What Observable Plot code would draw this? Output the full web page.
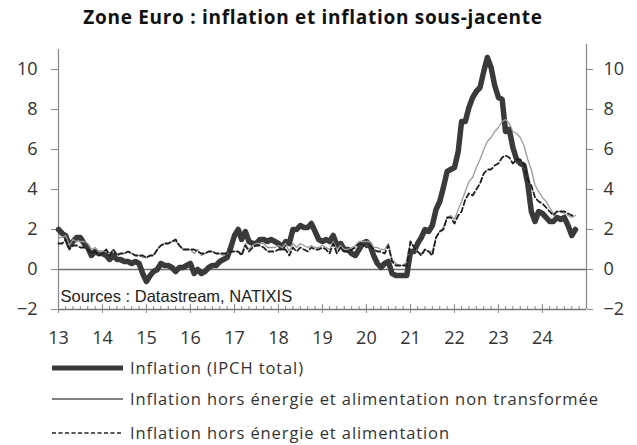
<!DOCTYPE html>
<html>
<head>
<meta charset="utf-8">
<script src="https://cdn.jsdelivr.net/npm/d3@7"></script>
<script src="https://cdn.jsdelivr.net/npm/@observablehq/plot@0.6"></script>
<style>
  html, body { margin: 0; padding: 0; background: #fff; }
  #wrap { position: relative; width: 637px; height: 445px; overflow: hidden; font-family: "Open Sans", sans-serif; color: #333; }
  #title { position: absolute; left: 0; top: 4px; width: 626px; text-align: center; font-weight: 700; font-size: 19px; letter-spacing: 0.7px; color: #111; }
  #chart { position: absolute; left: 0; top: 40px; }
  #legend { position: absolute; left: 0; top: 350px; }
</style>
</head>
<body>
<div id="wrap">
  <div id="title">Zone Euro : inflation et inflation sous-jacente</div>
  <div id="chart"></div>
  <svg id="legend" width="637" height="95"></svg>
</div>
<script>
// ---- Data (monthly, Jan 2013 -> Oct 2024) ----
const startMonth = "2013-01";
const endMonth = "2024-10";

const seriesNames = [
  "Inflation (IPCH total)",
  "Inflation hors énergie et alimentation non transformée",
  "Inflation hors énergie et alimentation"
];

const headline = [
  2.0,1.8,1.7,1.2,1.4,1.6,1.6,1.3,1.1,0.7,0.9,0.8,
  0.8,0.7,0.5,0.7,0.5,0.5,0.4,0.4,0.3,0.4,0.3,-0.2,
  -0.6,-0.3,-0.1,0.0,0.3,0.2,0.2,0.1,-0.1,0.1,0.1,0.2,
  0.3,-0.2,0.0,-0.2,-0.1,0.1,0.2,0.2,0.4,0.5,0.6,1.1,
  1.7,2.0,1.5,1.9,1.4,1.3,1.3,1.5,1.5,1.4,1.5,1.4,
  1.3,1.1,1.4,1.3,2.0,2.0,2.2,2.1,2.1,2.3,1.9,1.5,
  1.4,1.5,1.4,1.7,1.2,1.3,1.0,1.0,0.8,0.7,1.0,1.3,
  1.4,1.2,0.7,0.3,0.1,0.3,0.4,-0.2,-0.3,-0.3,-0.3,-0.3,
  0.9,0.9,1.3,1.6,2.0,1.9,2.2,3.0,3.4,4.1,4.9,5.0,
  5.1,5.9,7.4,7.4,8.1,8.6,8.9,9.1,9.9,10.6,10.1,9.2,
  8.6,8.5,6.9,7.0,6.1,5.5,5.3,5.2,4.3,2.9,2.4,2.9,
  2.8,2.6,2.4,2.4,2.6,2.5,2.6,2.2,1.7,2.0
];

const exUnprocessed = [
  1.6,1.6,1.7,1.2,1.5,1.4,1.4,1.4,1.3,1.0,1.1,0.9,
  0.9,1.0,0.8,1.0,0.8,0.8,0.8,0.9,0.8,0.7,0.7,0.6,
  0.6,0.7,0.7,1.0,1.2,1.3,1.3,1.4,1.4,1.2,1.0,1.0,
  1.0,0.8,1.0,0.7,0.8,0.9,0.9,0.8,0.8,0.7,0.8,0.9,
  0.9,0.9,0.8,1.3,1.0,1.2,1.3,1.3,1.3,1.1,1.1,1.1,
  1.2,1.1,1.3,0.9,1.3,1.1,1.3,1.2,1.1,1.2,1.1,1.1,
  1.2,1.1,1.0,1.4,1.0,1.2,1.0,1.0,1.1,1.2,1.4,1.4,
  1.4,1.4,1.1,1.1,1.0,1.0,1.3,0.5,0.3,0.2,0.2,0.4,
  1.4,1.1,0.9,0.8,1.0,0.9,0.9,1.6,1.9,2.1,2.6,2.7,
  2.5,3.0,3.4,3.9,4.4,4.6,5.1,5.5,6.0,6.4,6.6,6.9,
  7.1,7.4,7.5,7.3,6.9,6.8,6.6,6.2,5.5,5.0,4.2,3.9,
  3.6,3.4,3.1,2.8,2.9,2.9,2.8,2.7,2.6,2.7
];

const core = [
  1.3,1.3,1.5,1.0,1.2,1.2,1.1,1.1,1.0,0.8,0.9,0.7,
  0.8,1.0,0.7,1.0,0.7,0.8,0.8,0.9,0.8,0.7,0.7,0.7,
  0.6,0.7,0.7,1.0,1.2,1.3,1.3,1.4,1.5,1.2,1.0,1.0,
  1.0,1.0,0.9,0.8,0.8,0.9,0.9,0.8,0.8,0.8,0.8,0.9,
  0.9,0.9,0.7,1.2,0.9,1.1,1.2,1.2,1.1,0.9,0.9,0.9,
  1.0,1.0,1.0,0.7,1.1,0.9,1.1,1.0,0.9,1.1,1.0,1.0,
  1.1,1.0,0.8,1.3,0.8,1.1,0.9,0.9,1.0,1.1,1.3,1.3,
  1.1,1.2,1.0,0.9,0.9,0.8,1.2,0.4,0.2,0.2,0.2,0.2,
  1.4,1.1,0.9,0.7,1.0,0.9,0.7,1.6,1.9,2.0,2.6,2.6,
  2.3,2.7,2.9,3.5,3.8,3.7,4.0,4.3,4.8,5.0,5.0,5.2,
  5.3,5.6,5.7,5.6,5.3,5.5,5.5,5.3,4.5,4.2,3.6,3.4,
  3.3,3.1,2.9,2.7,2.9,2.9,2.9,2.8,2.7,2.7
];

const yearTicks = ["2013","2014","2015","2016","2017","2018","2019","2020","2021","2022","2023","2024"];
const yTicks = [-2, 0, 2, 4, 6, 8, 10];
const xDomain = ["2013-01-01", "2025-01-01"];
const yDomain = [-2, 11];
const sourceNote = ["Sources : Datastream, NATIXIS"];

// ---- Build tables ----
const parse = d3.utcParse("%Y-%m");
const months = d3.utcMonths(parse(startMonth), d3.utcMonth.offset(parse(endMonth), 1));
const rows = (vals) => vals.map((v, i) => ({date: months[i], value: v}));
const dHead = rows(headline);
const dExU = rows(exUnprocessed);
const dCore = rows(core);
const xd = xDomain.map(s => new Date(s));
const yearDates = yearTicks.map(y => new Date(y + "-01-01"));
const minorDates = d3.utcMonth.every(2).range(xd[0], xd[1]);

const chart = Plot.plot({
  width: 637,
  height: 312,
  marginLeft: 58,
  marginRight: 51,
  marginTop: 9,
  marginBottom: 43,
  style: {fontFamily: "'Open Sans', sans-serif", fontSize: "18px", color: "#333", background: "transparent", overflow: "visible"},
  x: {type: "utc", domain: xd},
  y: {domain: yDomain},
  marks: [
    Plot.ruleY([0], {stroke: "#6f6f6f", strokeWidth: 1.4}),
    Plot.ruleY([yDomain[0]], {stroke: "#777", strokeWidth: 1.3}),
    Plot.ruleX([xd[0]], {stroke: "#888", strokeWidth: 1.2}),
    Plot.ruleX([xd[1]], {stroke: "#888", strokeWidth: 1.2, insetTop: -5}),
    Plot.axisY({anchor: "left", ticks: yTicks, tickSize: 7, tickPadding: 14, stroke: "#888", label: null, fill: "#333"}),
    Plot.axisY({anchor: "right", ticks: yTicks, tickSize: 6, tickPadding: 11, stroke: "#888", label: null, fill: "#333"}),
    Plot.axisX({ticks: minorDates, tickSize: -3, tickFormat: () => "", stroke: "#888", label: null}),
    Plot.axisX({ticks: yearDates, tickSize: -5, tickFormat: () => "", stroke: "#888", label: null}),
    Plot.axisX({ticks: yearDates, tickSize: 4, tickPadding: 18, tickFormat: d3.utcFormat("%y"), stroke: "#888", label: null, fill: "#333"}),
    Plot.text(sourceNote, {frameAnchor: "bottom-left", text: d => d, dx: 2, dy: -8, textAnchor: "start", fontSize: 16.5, fontFamily: "'Liberation Sans', Arial, sans-serif", fill: "#222"}),
    Plot.line(dHead, {x: "date", y: "value", stroke: "#3a3a3a", strokeWidth: 5.5, strokeLinejoin: "round", strokeLinecap: "round"}),
    Plot.line(dExU, {x: "date", y: "value", stroke: "#9a9a9a", strokeWidth: 1.3}),
    Plot.line(dCore, {x: "date", y: "value", stroke: "#1e1e1e", strokeWidth: 1.8, strokeDasharray: "5,3"})
  ]
});
document.getElementById("chart").appendChild(chart);

// ---- Legend ----
const leg = d3.select("#legend");
const legendStyles = [
  {stroke: "#3a3a3a", width: 5, dash: null},
  {stroke: "#555", width: 1.4, dash: null},
  {stroke: "#222", width: 1.6, dash: "4,2.5"}
];
const legendRows = [18, 49, 83];
seriesNames.forEach((name, i) => {
  const g = leg.append("g").attr("transform", `translate(0,${legendRows[i]})`);
  g.append("line").attr("x1", 52).attr("x2", 123).attr("y1", 0).attr("y2", 0)
    .attr("stroke", legendStyles[i].stroke).attr("stroke-width", legendStyles[i].width)
    .attr("stroke-dasharray", legendStyles[i].dash);
  g.append("text").attr("x", 130).attr("y", 0).attr("dy", "0.35em")
    .attr("font-family", "'Open Sans', sans-serif").attr("font-size", 16.5)
    .attr("letter-spacing", "0.9px")
    .attr("fill", "#333").text(name);
});
</script>
</body>
</html>
